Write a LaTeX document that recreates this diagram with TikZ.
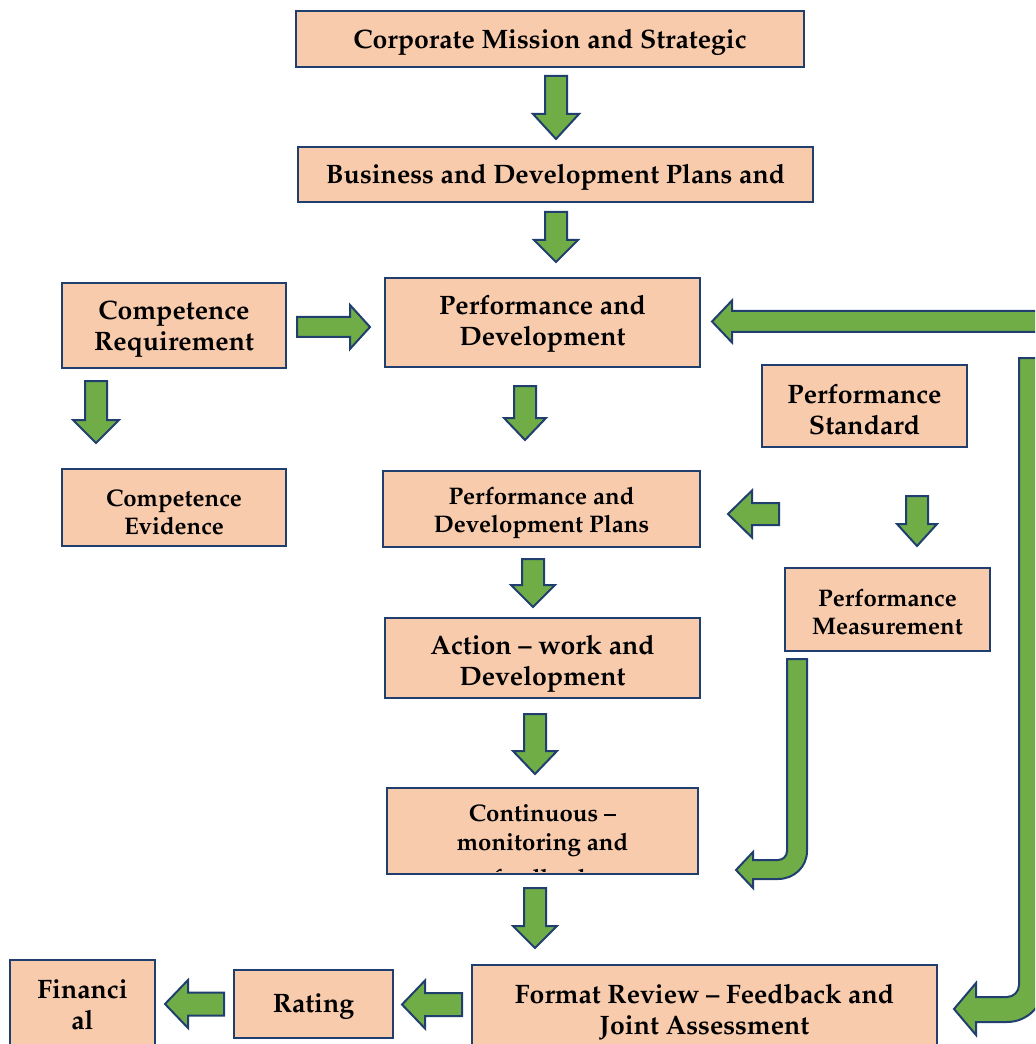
\documentclass[tikz,border=0pt]{standalone}
\usepackage[T1]{fontenc}
\usepackage{mathpazo}
\definecolor{boxfill}{HTML}{F8CBAD}
\definecolor{navy}{HTML}{213F6E}
\definecolor{agreen}{HTML}{70AD47}
\tikzset{
  box/.style={draw=navy, fill=boxfill, line width=1.9pt, inner sep=0pt},
  big/.style={font=\bfseries\fontsize{20}{23.25}\selectfont, align=center, inner sep=0pt, text=black},
  small/.style={font=\bfseries\fontsize{18}{21}\selectfont, align=center, inner sep=0pt, text=black},
  barrow/.style={draw=navy, fill=agreen, line width=1.5pt, line join=miter},
}
% box: name, x1, y1, x2, y2
\newcommand{\Bx}[5]{\node[box, minimum width={(#4-#2)*0.75pt}, minimum height={(#5-#3)*0.75pt}] (#1) at ({(#2+#4)/2},{(#3+#5)/2}) {};}
% down arrow: cx, ytop, yhead, ytip, shaft half, head half
\newcommand{\DnArrow}[6]{\path[barrow] ({#1-#5},#2) -- ({#1+#5},#2) -- ({#1+#5},#3) -- ({#1+#6},#3) -- (#1,#4) -- ({#1-#6},#3) -- ({#1-#5},#3) -- cycle;}
% left arrow: xright, xhead, xtip, cy, shaft half, head half
\newcommand{\LtArrow}[6]{\path[barrow] (#1,{#4-#5}) -- (#1,{#4+#5}) -- (#2,{#4+#5}) -- (#2,{#4+#6}) -- (#3,#4) -- (#2,{#4-#6}) -- (#2,{#4-#5}) -- cycle;}
\begin{document}
\begin{tikzpicture}[x=0.75pt,y=-0.75pt]
\useasboundingbox (0,0) rectangle (1035,1044);
\clip (0,0) rectangle (1035,1044);

% ---------- boxes ----------
\Bx{corp}{296}{11}{804}{67}
\node[big] (corpT) at (550,42) {Corporate Mission and Strategic};

\Bx{bus}{298}{147}{813}{202}
\node[big] (busT) at (555.5,177) {Business and Development Plans and};

\Bx{creq}{62}{283}{286}{368}
\node[big] (creqT) at (174,329) {Competence\\Requirement};

\Bx{pd}{385}{278}{700}{367}
\node[big] (pdT) at (542.5,324) {Performance and\\Development};

\Bx{pstd}{762}{365}{967}{447}
\node[big] (pstdT) at (864.5,410) {Performance\\Standard};

\Bx{cev}{62}{469}{286}{546}
\node[small] (cevT) at (174,512) {Competence\\Evidence};

\Bx{pdp}{383}{471}{700}{547}
\node[small] (pdpT) at (541.5,513) {Performance and\\Development Plans};

\Bx{pmeas}{785}{568}{990}{651}
\node[small] (pmeasT) at (887.5,612) {Performance\\Measurement};

\Bx{act}{385}{618}{700}{698}
\node[big] (actT) at (542.5,664) {Action -- work and\\Development};

\Bx{cont}{387}{788}{698}{874}
\node[small, anchor=base] (contT1) at (542.5,821) {Continuous --};
\node[small, anchor=base] (contT2) at (542.5,850) {monitoring and};
\begin{scope}
  \clip (389,790) rectangle (696,871.5);
  \node[small, anchor=base] (contT3) at (542.5,886) {feedback};
\end{scope}
\draw[navy, line width=1.9pt] (387,874) -- (698,874);

\Bx{frev}{472}{965}{937}{1056}
\node[big] (frevT) at (704.5,1012) {Format Review -- Feedback and\\Joint Assessment};

\Bx{rate}{234}{970}{393}{1038}
\node[big] (rateT) at (313.5,1007) {Rating};

\Bx{fin}{10}{960}{155}{1052}
\node[big] (finT) at (82.5,1005) {Financi\\al};

% ---------- straight block arrows ----------
\DnArrow{556}{76}{114}{139}{11}{23}
\DnArrow{556}{212}{240}{262}{11}{22}
\DnArrow{96}{381}{420}{443}{11}{23}
\DnArrow{525}{386}{418}{440}{11}{21}
\DnArrow{917}{496}{524}{546}{11}{20}
\DnArrow{533}{559}{585}{607}{11}{22}
\DnArrow{535}{714}{751}{774}{11}{22}
\DnArrow{535}{888}{926}{948}{11}{22}

% right arrow: competence requirement -> performance and development
\path[barrow] (297,317) -- (350,317) -- (350,305) -- (370,327) -- (350,349) -- (350,337) -- (297,337) -- cycle;

\LtArrow{779}{752}{728}{514}{11}{23.5}
\LtArrow{462}{425}{402}{1004.5}{11.5}{24}
\LtArrow{224}{188}{165}{1004}{11.5}{24}
% long arrow entering from the right edge
\LtArrow{1045}{732}{712}{321.5}{10.5}{21}

% ---------- bent arrows ----------
% from performance measurement down and left to continuous monitoring
\path[barrow] (787,659) -- (807,659) -- (807,851)
  .. controls (807,867) and (794,879) .. (778,879)
  -- (753,879) -- (753,888) -- (736,870) -- (753,852) -- (753,860)
  -- (778,860) .. controls (783,860) and (787,856) .. (787,851) -- cycle;

% long arrow on the right edge down to the format review
\path[barrow] (1019,358) -- (1044,358) -- (1044,985)
  .. controls (1044,1005.4) and (1027.4,1022) .. (1007,1022)
  -- (976,1022) -- (976,1035) -- (954,1009) -- (976,983) -- (976,997)
  -- (1007,997) .. controls (1013.6,997) and (1019,991.6) .. (1019,985) -- cycle;
\end{tikzpicture}
\end{document}
